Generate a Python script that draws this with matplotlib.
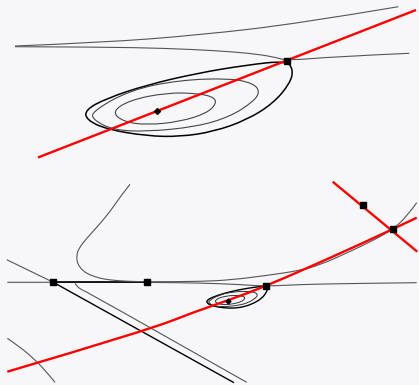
import matplotlib
matplotlib.use("Agg")
import matplotlib.pyplot as plt
from matplotlib.path import Path
from matplotlib.patches import PathPatch

# ---------------- data (pixel-space coordinates) -------------
# Top panel
top_upper_x = [15, 100, 200, 300, 398.3]
top_upper_y = [46, 42.7, 35, 23.3, 6.7]
top_lower_x = [15, 100, 166.7, 216.7, 250, 273.3, 286.7, 333.3, 409.3]
top_lower_y = [46.7, 47, 48.3, 50.7, 53.3, 56.7, 60.7, 56.7, 53.3]
top_red_x = [38, 416]
top_red_y = [157.5, 10]
top_saddle = (286.7, 60.7)
top_center = (157.3, 111.3)
top_outer_x = [286.7, 246.7, 196.7, 146.7, 106.7, 85, 86.7, 106.7, 146.7, 180, 213.3, 246.7, 273.3, 290, 293.3]
top_outer_y = [60.7, 65, 73.3, 85, 98.3, 110, 120, 129.3, 136, 136.7, 131.7, 120, 103.3, 83.3, 70]
top_mid_x = [91.7, 130, 180, 230, 253.3, 260, 253.3, 230, 196.7, 146.7, 113.3, 93.3]
top_mid_y = [111.7, 90, 80, 78.3, 83.3, 91.7, 101.7, 116.7, 126.7, 131.7, 130, 120]
top_inner_x = [111.7, 130, 166.7, 196.7, 213.3, 216.7, 206.7, 180, 146.7, 123.3]
top_inner_y = [111.7, 100, 92.7, 93.3, 96.7, 103.3, 113.3, 121.7, 125, 121.7]

# Bottom panel
bot_horiz_x = [7.3, 53.3, 147.3, 200, 240, 265.5, 300, 350, 416.7]
bot_horiz_y = [282.3, 282.3, 282.3, 283, 284.5, 286.3, 284.5, 283.5, 282.7]
bot_hetero_x = [53.3, 147.3]
bot_hetero_y = [282.3, 282.3]
bot_scurve_x = [130, 120, 110, 98, 86.7, 79, 76.7, 77, 78.3, 83, 90, 100, 110, 126.7, 147, 200,
                230, 266.7, 300, 320, 353.3, 375, 392.7, 406.7, 416.7]
bot_scurve_y = [184.3, 197, 211.7, 226, 238.3, 248, 255, 261, 265, 271, 275, 278.3, 280, 281.3,
                281.8, 281.5, 280, 275.5, 270.5, 265, 250, 239.5, 229.3, 216.7, 202.7]
bot_gray_diag_x = [7.3, 53.3]
bot_gray_diag_y = [260, 282.3]
bot_black_diag_x = [53.3, 233.3]
bot_black_diag_y = [282.3, 382.3]
bot_par_x = [75, 77, 82, 90, 246.7]
bot_par_y = [283.3, 286.5, 290, 293.5, 382.3]
bot_ll_x = [7.3, 20, 33, 45, 55]
bot_ll_y = [338.3, 347, 358, 370, 382.3]
bot_red_x = [7.3, 146.7, 195, 227.7, 265.5, 330, 392.7, 416.7]
bot_red_y = [371.7, 330.5, 311.7, 300.5, 286.3, 258, 229.3, 217.7]
bot_red2_x = [332.7, 417.3]
bot_red2_y = [181.7, 251.7]
bot_squares_x = [53.3, 147.3, 265.5, 392.7, 363.3]
bot_squares_y = [282.3, 282.3, 286.3, 229.3, 205]
bot_center = (227.7, 300.7)
bot_outer_x = [265.5, 253.8, 239.2, 224.6, 212.9, 206.6, 207.1, 212.9, 224.6, 234.3, 244.1, 253.8, 261.6, 266.4, 267.4]
bot_outer_y = [286.0, 287.3, 289.7, 293.1, 297.0, 300.4, 303.3, 306.1, 308.0, 308.2, 306.8, 303.3, 298.5, 292.6, 288.7]
bot_mid_x = [208.5, 219.7, 234.3, 248.9, 255.7, 257.7, 255.7, 248.9, 239.2, 224.6, 214.9, 209.0]
bot_mid_y = [300.9, 294.6, 291.7, 291.2, 292.6, 295.1, 298.0, 302.4, 305.3, 306.8, 306.3, 303.3]
bot_inner_x = [214.4, 219.7, 230.4, 239.2, 244.1, 245.0, 242.1, 234.3, 224.6, 217.8]
bot_inner_y = [300.9, 297.5, 295.4, 295.5, 296.5, 298.5, 301.4, 303.8, 304.8, 303.8]

BG = "#f7f7fa"
GRAY = "#555555"
RED = "#ff0000"


def smooth_open(xs, ys):
    pts = list(zip(xs, ys))
    verts = [pts[0]]
    codes = [Path.MOVETO]
    if len(pts) == 2:
        verts.append(pts[1]); codes.append(Path.LINETO)
        return Path(verts, codes)
    for i in range(1, len(pts) - 1):
        p, q = pts[i], pts[i + 1]
        end = q if i == len(pts) - 2 else ((p[0] + q[0]) / 2, (p[1] + q[1]) / 2)
        verts += [p, end]
        codes += [Path.CURVE3, Path.CURVE3]
    return Path(verts, codes)


def smooth_closed(xs, ys):
    pts = list(zip(xs, ys))
    n = len(pts)
    mids = [((pts[i][0] + pts[(i + 1) % n][0]) / 2, (pts[i][1] + pts[(i + 1) % n][1]) / 2) for i in range(n)]
    verts = [mids[-1]]
    codes = [Path.MOVETO]
    for i in range(n):
        verts += [pts[i], mids[i]]
        codes += [Path.CURVE3, Path.CURVE3]
    return Path(verts, codes)


def draw(ax, path, color, lw, z=2):
    ax.add_patch(PathPatch(path, facecolor="none", edgecolor=color, lw=lw, zorder=z,
                           capstyle="butt", joinstyle="round"))


fig = plt.figure(figsize=(4.19, 3.85), dpi=100)
fig.patch.set_facecolor(BG)
ax = fig.add_axes([0, 0, 1, 1])
ax.set_facecolor(BG)
ax.set_xlim(0, 419)
ax.set_ylim(385, 0)
ax.axis("off")

# ---- top panel ----
draw(ax, smooth_open(top_upper_x, top_upper_y), GRAY, 0.8)
draw(ax, smooth_open(top_lower_x, top_lower_y), GRAY, 0.8)
draw(ax, smooth_closed(top_outer_x, top_outer_y), "black", 1.1)
draw(ax, smooth_closed(top_mid_x, top_mid_y), "#444444", 0.8)
draw(ax, smooth_closed(top_inner_x, top_inner_y), "#444444", 0.8)
ax.plot(top_red_x, top_red_y, color=RED, lw=1.7, zorder=3, solid_capstyle="butt")
ax.plot([top_saddle[0]], [top_saddle[1]], "s", color="black", ms=4.5, zorder=4)
ax.plot([top_center[0]], [top_center[1]], "D", color="black", ms=3, zorder=4)

# ---- bottom panel ----
draw(ax, smooth_open(bot_horiz_x, bot_horiz_y), GRAY, 0.8)
ax.plot(bot_hetero_x, bot_hetero_y, color="black", lw=1.2, zorder=2)
draw(ax, smooth_open(bot_scurve_x, bot_scurve_y), GRAY, 0.8)
ax.plot(bot_gray_diag_x, bot_gray_diag_y, color=GRAY, lw=0.8, zorder=2)
ax.plot(bot_black_diag_x, bot_black_diag_y, color="black", lw=1.0, zorder=2)
draw(ax, smooth_open(bot_par_x, bot_par_y), GRAY, 0.8)
draw(ax, smooth_open(bot_ll_x, bot_ll_y), GRAY, 0.8)
draw(ax, smooth_closed(bot_outer_x, bot_outer_y), "black", 1.0)
draw(ax, smooth_closed(bot_mid_x, bot_mid_y), "#333333", 0.7)
draw(ax, smooth_closed(bot_inner_x, bot_inner_y), "#333333", 0.7)
draw(ax, smooth_open(bot_red_x, bot_red_y), RED, 1.7, z=3)
ax.plot(bot_red2_x, bot_red2_y, color=RED, lw=1.7, zorder=3, solid_capstyle="butt")
ax.plot(bot_squares_x, bot_squares_y, "s", color="black", ms=4.5, ls="none", zorder=4)
ax.plot([bot_center[0]], [bot_center[1]], "D", color="black", ms=2.5, zorder=4)

fig.savefig("out.png", dpi=100, facecolor=BG)
